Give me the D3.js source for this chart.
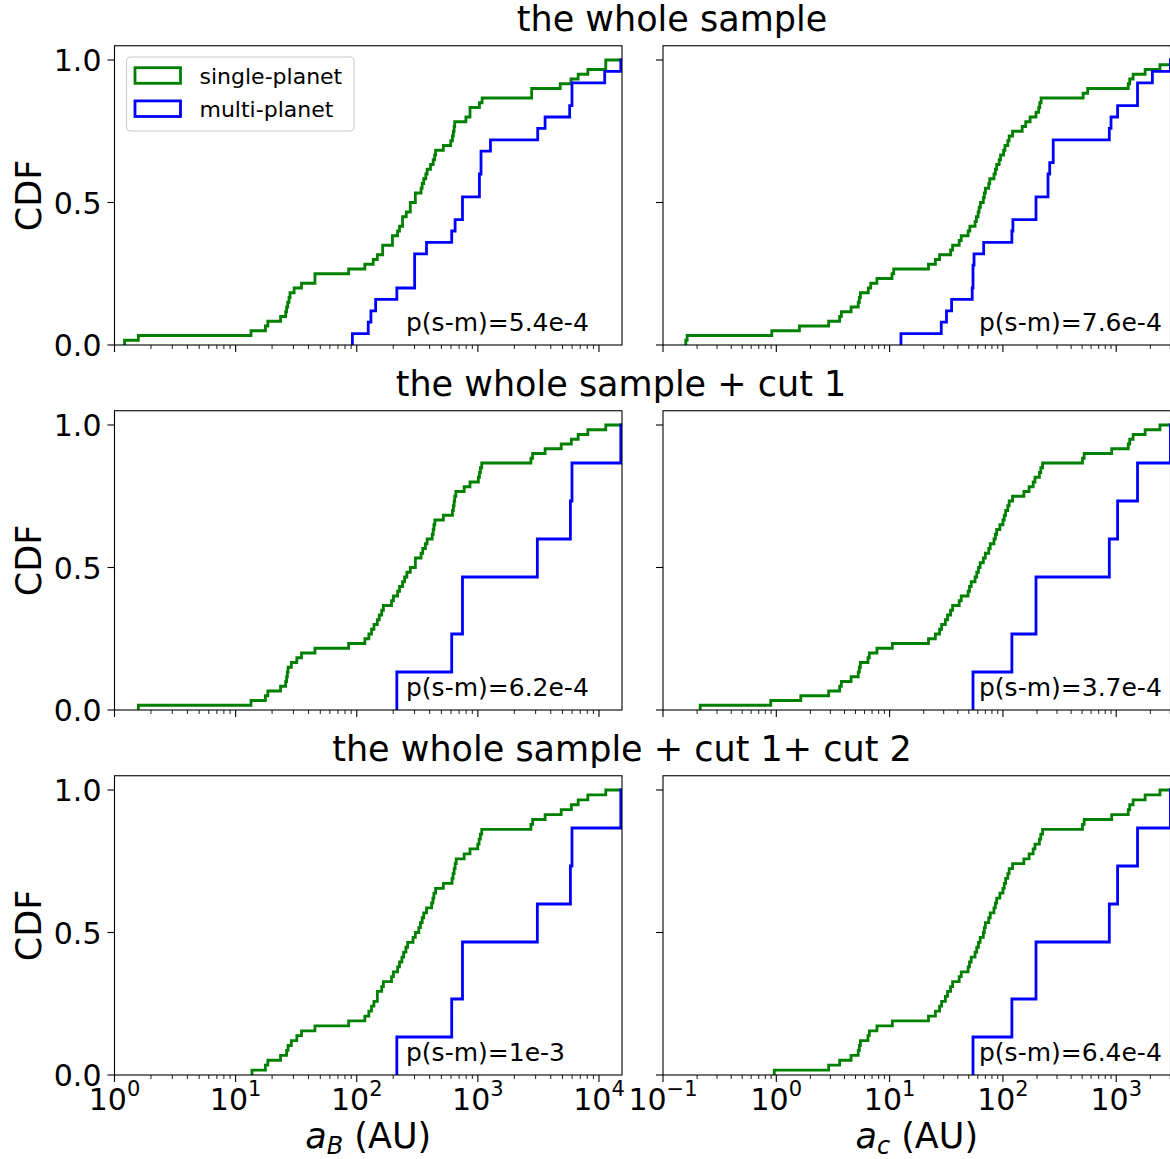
<!DOCTYPE html>
<html><head><meta charset="utf-8">
<script src="https://cdn.jsdelivr.net/npm/d3@7"></script>
<style>body{margin:0;background:#fff} svg{display:block} text{font-family:"DejaVu Sans",sans-serif;fill:#000}</style>
</head><body><svg id="c" width="1170" height="1159"></svg>
<script>
// ---- data: log10 of separations (AU) ----
const rowTitles = ["the whole sample", "the whole sample + cut 1", "the whole sample + cut 1+ cut 2"];
const seriesNames = ["single-planet", "multi-planet"];
const pLabels = [["p(s-m)=5.4e-4", "p(s-m)=7.6e-4"], ["p(s-m)=6.2e-4", "p(s-m)=3.7e-4"], ["p(s-m)=1e-3", "p(s-m)=6.4e-4"]];
const yTicks = [0.0, 0.5, 1.0];
const xTickExpB = [0, 1, 2, 3, 4];
const xTickExpC = [-1, 0, 1, 2, 3];

const logB_single_whole = [0.083,0.197,1.127,1.246,1.266,1.371,1.413,1.421,1.430,1.441,1.449,1.483,1.544,1.655,1.655,1.933,2.067,2.136,2.170,2.214,2.214,2.295,2.295,2.337,2.353,2.378,2.378,2.409,2.442,2.442,2.484,2.484,2.531,2.540,2.553,2.570,2.581,2.609,2.631,2.643,2.651,2.715,2.776,2.790,2.798,2.804,2.809,2.901,2.935,2.935,3.013,3.035,3.444,3.444,3.680,3.769,3.828,3.908,4.056,4.056];
const logB_multi_whole = [1.964,2.095,2.117,2.156,2.331,2.478,2.478,2.478,2.576,2.784,2.812,2.873,2.873,3.013,3.013,3.026,3.026,3.104,3.494,3.555,3.758,3.777,3.777,4.047,4.18];
const logC_single_whole = [-0.799,-0.787,-0.040,0.204,0.462,0.559,0.574,0.660,0.723,0.733,0.742,0.812,0.833,0.888,1.021,1.036,1.343,1.404,1.441,1.538,1.556,1.614,1.632,1.693,1.708,1.754,1.766,1.781,1.790,1.802,1.827,1.836,1.845,1.875,1.884,1.921,1.933,1.945,1.967,1.979,2.006,2.018,2.043,2.055,2.085,2.170,2.201,2.240,2.292,2.316,2.325,2.337,2.708,2.748,3.106,3.119,3.149,3.255,3.386,3.478];
const logC_multi_whole = [1.100,1.456,1.502,1.547,1.729,1.736,1.736,1.745,1.830,2.079,2.088,2.292,2.292,2.398,2.398,2.413,2.444,2.444,2.939,2.954,3.012,3.188,3.188,3.319,3.478];

const logB_single_cut1 = [0.197,1.127,1.246,1.266,1.371,1.413,1.421,1.427,1.433,1.460,1.505,1.544,1.655,1.933,2.067,2.100,2.122,2.142,2.170,2.186,2.206,2.220,2.287,2.303,2.337,2.353,2.378,2.395,2.414,2.442,2.484,2.484,2.531,2.545,2.567,2.581,2.623,2.631,2.637,2.645,2.715,2.790,2.798,2.804,2.809,2.818,2.887,2.935,3.004,3.013,3.021,3.032,3.438,3.452,3.555,3.688,3.772,3.828,3.908,4.056];
const logB_multi_cut1 = [2.331,2.331,2.784,2.784,2.873,2.873,2.873,3.491,3.491,3.764,3.764,3.777,3.777,4.18,4.18];
const logC_single_cut1 = [-0.672,-0.049,0.216,0.462,0.559,0.574,0.660,0.723,0.733,0.742,0.809,0.821,0.888,1.024,1.343,1.404,1.441,1.459,1.492,1.511,1.538,1.556,1.614,1.632,1.693,1.705,1.720,1.754,1.769,1.784,1.799,1.827,1.845,1.875,1.888,1.921,1.933,1.945,1.973,2.000,2.012,2.024,2.043,2.055,2.085,2.185,2.231,2.267,2.283,2.322,2.334,2.350,2.702,2.717,2.960,3.106,3.119,3.149,3.255,3.386];
const logC_multi_cut1 = [1.736,1.736,2.079,2.079,2.292,2.292,2.292,2.939,2.939,3.012,3.012,3.188,3.188,3.478,3.478];

const logB_single_cut12 = [1.135,1.246,1.266,1.371,1.421,1.433,1.460,1.505,1.544,1.655,1.933,2.067,2.100,2.122,2.142,2.170,2.170,2.206,2.220,2.287,2.303,2.337,2.353,2.373,2.387,2.406,2.420,2.465,2.484,2.512,2.526,2.540,2.553,2.576,2.618,2.629,2.637,2.651,2.715,2.787,2.795,2.804,2.812,2.821,2.887,2.935,2.999,3.010,3.021,3.032,3.438,3.452,3.555,3.688,3.772,3.828,3.908,4.056];
const logB_multi_cut12 = [2.331,2.331,2.784,2.784,2.873,2.873,2.873,3.491,3.491,3.764,3.764,3.777,3.777,4.18,4.18];
const logC_single_cut12 = [-0.018,0.462,0.559,0.660,0.723,0.733,0.742,0.809,0.821,0.888,1.024,1.343,1.404,1.441,1.459,1.492,1.511,1.538,1.556,1.614,1.632,1.693,1.705,1.720,1.754,1.769,1.784,1.799,1.827,1.836,1.845,1.875,1.888,1.921,1.933,1.945,1.973,2.000,2.012,2.024,2.043,2.055,2.085,2.185,2.231,2.267,2.283,2.322,2.334,2.350,2.702,2.717,2.960,3.106,3.119,3.149,3.255,3.386];
const logC_multi_cut12 = [1.736,1.736,2.079,2.079,2.292,2.292,2.292,2.939,2.939,3.012,3.012,3.188,3.188,3.478,3.478];

const panelData = [
  [[logB_single_whole, logB_multi_whole], [logC_single_whole, logC_multi_whole]],
  [[logB_single_cut1, logB_multi_cut1], [logC_single_cut1, logC_multi_cut1]],
  [[logB_single_cut12, logB_multi_cut12], [logC_single_cut12, logC_multi_cut12]]
];

// ---- layout ----
const svg = d3.select("#c");
const colors = ["#008000", "#0000ff"];
const cols = [
  {x0: 114.5, x1: 622, dom: [1, Math.pow(10, 4.19)], exps: xTickExpB, label: "B"},
  {x0: 663, x1: 1170.5, dom: [0.1, Math.pow(10, 3.479)], exps: xTickExpC, label: "c"}
];
const rows = [{y1: 345}, {y1: 710}, {y1: 1075}];
const titlePos = [[672, 31], [621, 396], [622, 761]];
const plotH = 285; // px per CDF unit

function ecdf(logs) {
  const v = logs.map(d => Math.pow(10, d)).sort((a, b) => a - b);
  const n = v.length;
  const pts = [[v[0], 0]];
  let i = 0;
  while (i < n) {
    let j = i;
    while (j + 1 < n && v[j + 1] === v[i]) j++;
    pts.push([v[i], (j + 1) / n]);
    i = j + 1;
  }
  return pts;
}

const sup = (e) => (e < 0 ? "\u2212" + (-e) : "" + e);

rows.forEach((r, ri) => {
  // row title
  svg.append("text").attr("x", titlePos[ri][0]).attr("y", titlePos[ri][1])
    .attr("text-anchor", "middle").attr("font-size", 35).text(rowTitles[ri]);

  cols.forEach((c, ci) => {
    const x = d3.scaleLog().domain(c.dom).range([c.x0, c.x1]);
    const y = d3.scaleLinear().domain([0, 1.05]).range([r.y1, r.y1 - plotH * 1.05]);
    const yTop = y(1.05);
    const g = svg.append("g");
    const clipId = `clip${ri}${ci}`;
    svg.append("clipPath").attr("id", clipId).append("rect")
      .attr("x", c.x0).attr("y", yTop).attr("width", c.x1 - c.x0).attr("height", r.y1 - yTop);

    // step CDFs
    const line = d3.line().x(d => x(d[0])).y(d => y(d[1])).curve(d3.curveStepAfter);
    panelData[ri][ci].forEach((logs, si) => {
      const pts = ecdf(logs);
      pts.push([c.dom[1] * 1.5, pts[pts.length - 1][1]]);
      g.append("path").attr("d", line(pts)).attr("fill", "none")
        .attr("stroke", colors[si]).attr("stroke-width", 2.8)
        .attr("stroke-linejoin", "miter").attr("clip-path", `url(#${clipId})`);
    });

    // frame
    g.append("rect").attr("x", c.x0).attr("y", yTop).attr("width", c.x1 - c.x0).attr("height", r.y1 - yTop)
      .attr("fill", "none").attr("stroke", "#000").attr("stroke-width", 1.1);

    // y ticks
    yTicks.forEach(t => {
      g.append("line").attr("x1", c.x0).attr("x2", c.x0 - 7).attr("y1", y(t)).attr("y2", y(t))
        .attr("stroke", "#000").attr("stroke-width", 1.1);
      if (ci === 0) {
        g.append("text").attr("x", c.x0 - 13).attr("y", y(t) + 11).attr("text-anchor", "end")
          .attr("font-size", 30).text(t.toFixed(1));
      }
    });

    // x ticks (major + minor)
    const lo = Math.floor(Math.log10(c.dom[0])), hi = Math.ceil(Math.log10(c.dom[1]));
    for (let e = lo; e <= hi; e++) {
      for (let m = 1; m <= 9; m++) {
        const v = m * Math.pow(10, e);
        if (v < c.dom[0] * 0.999 || v > c.dom[1]) continue;
        const len = m === 1 ? 7 : 4;
        g.append("line").attr("x1", x(v)).attr("x2", x(v)).attr("y1", r.y1).attr("y2", r.y1 + len)
          .attr("stroke", "#000").attr("stroke-width", m === 1 ? 1.1 : 0.9);
      }
    }
    if (ri === rows.length - 1) {
      c.exps.forEach(e => {
        const t = g.append("text").attr("x", x(Math.pow(10, e))).attr("y", 1110)
          .attr("text-anchor", "middle").attr("font-size", 30);
        t.append("tspan").text("10");
        t.append("tspan").attr("dy", -14).attr("font-size", 21).text(sup(e));
      });
      const xl = g.append("text").attr("x", (c.x0 + c.x1) / 2).attr("y", 1148)
        .attr("text-anchor", "middle").attr("font-size", 35);
      xl.append("tspan").attr("font-style", "italic").text("a");
      xl.append("tspan").attr("font-style", "italic").attr("font-size", 24).attr("dy", 6).text(c.label);
      xl.append("tspan").attr("dy", -6).text(" (AU)");
    }

    // y label
    if (ci === 0) {
      const yc = (r.y1 + yTop) / 2;
      g.append("text").attr("transform", `translate(41,${yc}) rotate(-90)`)
        .attr("text-anchor", "middle").attr("font-size", 35).text("CDF");
    }

    // p-value annotation
    g.append("text").attr("x", ci === 0 ? 406 : 979).attr("y", y(0.05))
      .attr("font-size", 25).text(pLabels[ri][ci]);

    // legend (top-left panel only)
    if (ri === 0 && ci === 0) {
      const lg = g.append("g");
      lg.append("rect").attr("x", 126.5).attr("y", 57).attr("width", 227.5).attr("height", 74)
        .attr("rx", 4).attr("fill", "#fff").attr("fill-opacity", 0.8)
        .attr("stroke", "#cccccc").attr("stroke-width", 1.1);
      seriesNames.forEach((name, si) => {
        const cy = 75.5 + si * 33.2;
        lg.append("rect").attr("x", 135).attr("y", cy - 7.8).attr("width", 45.5).attr("height", 15.6)
          .attr("fill", "none").attr("stroke", colors[si]).attr("stroke-width", 2.8);
        lg.append("text").attr("x", 199.5).attr("y", cy + 8).attr("font-size", 22).text(name);
      });
    }
  });
});
</script></body></html>
